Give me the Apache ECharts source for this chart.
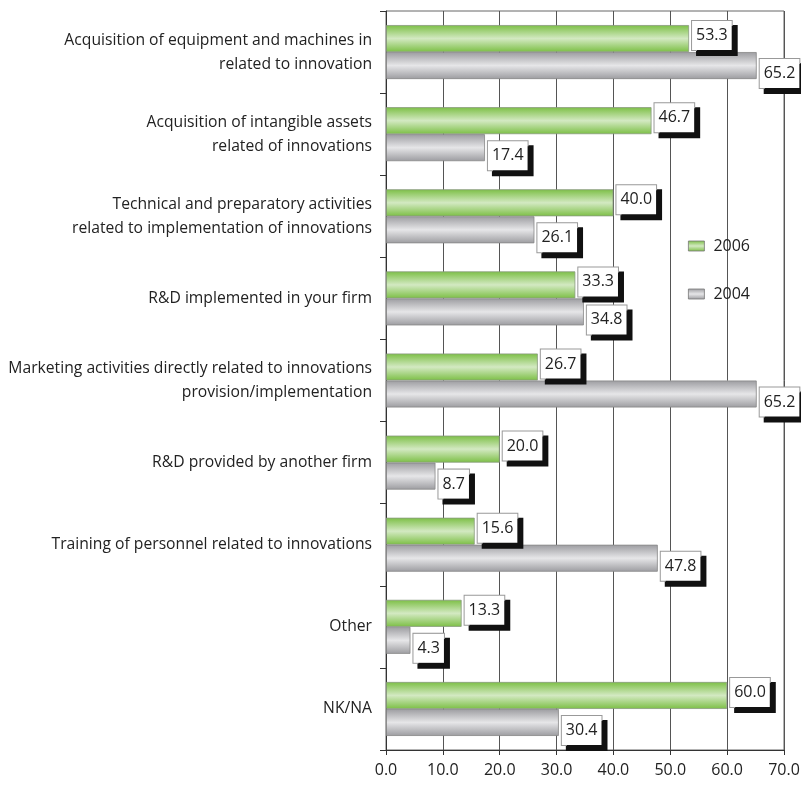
<!DOCTYPE html>
<html>
<head>
<meta charset="utf-8">
<script src="https://cdn.jsdelivr.net/npm/echarts@6/dist/echarts.min.js"></script>
<style>
  html, body { margin: 0; padding: 0; background: #fff; }
  #main { width: 801px; height: 791px; }
</style>
</head>
<body>
<div id="main"></div>
<script>
var categories = [
    'Acquisition of equipment and machines in\nrelated to innovation',
    'Acquisition of intangible assets\nrelated of innovations',
    'Technical and preparatory activities\nrelated to implementation of innovations',
    'R&D implemented in your firm',
    'Marketing activities directly related to innovations\nprovision/implementation',
    'R&D provided by another firm',
    'Training of personnel related to innovations',
    'Other',
    'NK/NA'
]
var values2006 = [53.3, 46.7, 40.0, 33.3, 26.7, 20.0, 15.6, 13.3, 60.0]
var values2004 = [65.2, 17.4, 26.1, 34.8, 65.2, 8.7, 47.8, 4.3, 30.4]
var xTicks = [0, 10, 20, 30, 40, 50, 60, 70]

var font = '"Open Sans", "DejaVu Sans", sans-serif'

// two-line labels sit a little lower in the original
var yData = categories.map(function (c) {
    if (c.indexOf('\n') >= 0) {
        return { value: c, textStyle: { padding: [10, 0, 0, 0] } }
    }
    return c
})

function barGradient(edge, mid) {
    return new echarts.graphic.LinearGradient(0, 0, 0, 1, [
        { offset: 0, color: edge },
        { offset: 0.5, color: mid },
        { offset: 1, color: edge }
    ])
}

function boxLabel(offsetY) {
    return {
        show: true,
        position: 'right',
        distance: 3,
        offset: [0, offsetY],
        formatter: function (p) { return p.value.toFixed(1) },
        color: '#222',
        fontFamily: font,
        fontSize: 16,
        backgroundColor: '#fff',
        borderColor: '#999',
        borderWidth: 1,
        padding: [7, 4, 6, 4],
        shadowColor: '#111',
        shadowOffsetX: 5,
        shadowOffsetY: 5,
        shadowBlur: 0
    }
}

var mychart = echarts.init(document.getElementById('main'))
mychart.setOption({
    animation: false,
    grid: {
        left: 386, right: 17, top: 11, bottom: 41,
        containLabel: false,
        outerBoundsMode: 'none',
        show: true, borderColor: '#666', borderWidth: 1
    },
    legend: {
        orient: 'vertical',
        left: 683,
        top: 233,
        icon: 'rect',
        itemWidth: 16,
        itemHeight: 10,
        itemGap: 32,
        itemStyle: { borderColor: '#777', borderWidth: 0.8 },
        textStyle: { fontFamily: font, fontSize: 16, color: '#222', padding: [0, 0, 0, 4] },
        data: ['2006', '2004']
    },
    xAxis: {
        type: 'value',
        min: 0,
        max: 70,
        interval: 10,
        position: 'bottom',
        axisLine: { show: true, lineStyle: { color: '#333' } },
        axisTick: { show: true, length: 5, lineStyle: { color: '#333' } },
        axisLabel: {
            fontFamily: font,
            fontSize: 16,
            color: '#222',
            margin: 12,
            formatter: function (v) { return xTicks.indexOf(v) >= 0 ? v.toFixed(1) : '' }
        },
        splitLine: { show: true, lineStyle: { color: '#555', width: 1 } }
    },
    yAxis: {
        type: 'category',
        inverse: true,
        data: yData,
        axisLine: { show: true, lineStyle: { color: '#333' } },
        axisTick: { show: true, length: 6, lineStyle: { color: '#333' } },
        axisLabel: {
            fontFamily: font,
            fontSize: 15.7,
            color: '#222',
            margin: 14,
            lineHeight: 24,
            align: 'right'
        }
    },
    series: [{
        name: '2006',
        type: 'bar',
        data: values2006,
        barWidth: 27,
        barGap: '0%',
        itemStyle: {
            color: barGradient('#7cbf45', '#d3e9c2'),
            borderColor: '#8a9a80',
            borderWidth: 0.8
        },
        label: boxLabel(-3)
    }, {
        name: '2004',
        type: 'bar',
        data: values2004,
        barWidth: 27,
        itemStyle: {
            color: barGradient('#9c9ca0', '#e6e6e8'),
            borderColor: '#888',
            borderWidth: 0.8
        },
        label: boxLabel(8)
    }]
})
</script>
</body>
</html>
